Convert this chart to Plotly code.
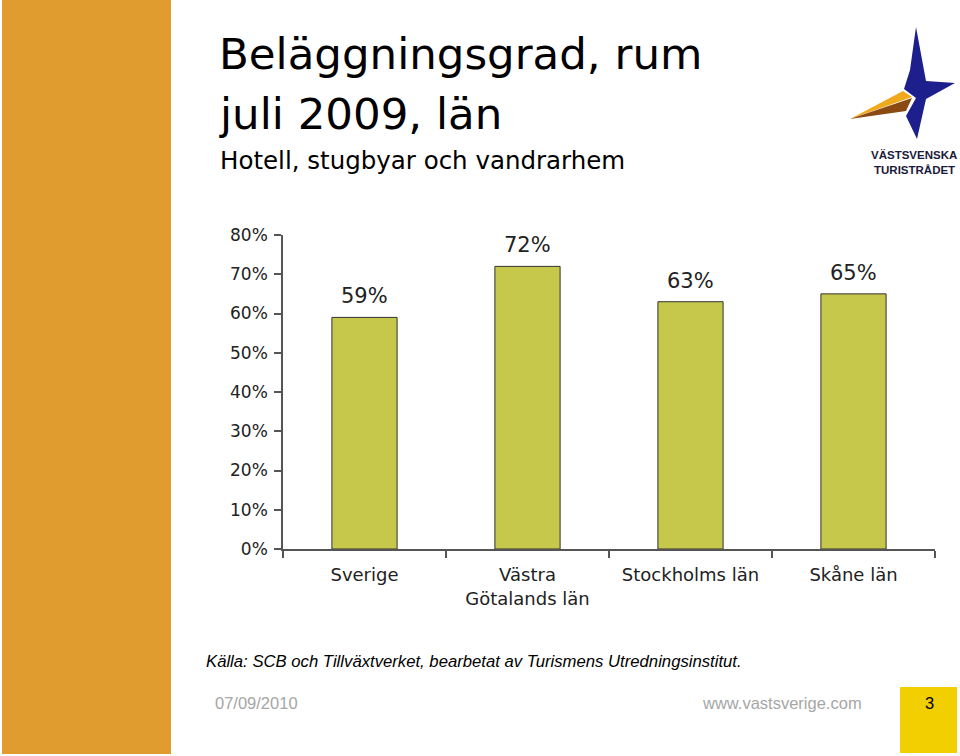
import plotly.graph_objects as go

# ---- data ----
categories = ["Sverige", "Västra<br>Götalands län", "Stockholms län", "Skåne län"]
occupancy = [59, 72, 63, 65]          # percent
y_ticks = [0, 10, 20, 30, 40, 50, 60, 70, 80]
y_tick_labels = [f"{v}%" for v in y_ticks]

title_1 = "Beläggningsgrad, rum"
title_2 = "juli 2009, län"
subtitle = "Hotell, stugbyar och vandrarhem"
source = "Källa: SCB och Tillväxtverket, bearbetat av Turismens Utredningsinstitut."
footer_date = "07/09/2010"
footer_url = "www.vastsverige.com"
page_no = "3"

W, H = 960, 756
def px(x):
    return x / W
def py(y):
    return 1 - y / H

BAR = "#C5C84B"
AXIS = "#555555"
TXT = "#222222"
FONT = "Liberation Sans, Arial, sans-serif"
WIDE = "DejaVu Sans, Liberation Sans, sans-serif"

fig = go.Figure()
fig.add_trace(go.Bar(
    x=categories, y=occupancy, width=0.4,
    marker=dict(color=BAR, line=dict(color="#333333", width=1)),
    hoverinfo="skip",
))

annotations = []
for c, v in zip(categories, occupancy):
    annotations.append(dict(
        x=c, y=v, xref="x", yref="y", text=f"{v}%", showarrow=False,
        yanchor="bottom", yshift=7, font=dict(family=WIDE, size=21, color=TXT)))

def txt(x, y, text, size, color="#000000", family=FONT, xanchor="left", yanchor="middle"):
    annotations.append(dict(x=px(x), y=py(y), xref="paper", yref="paper", text=text,
                            showarrow=False, xanchor=xanchor, yanchor=yanchor,
                            font=dict(family=family, size=size, color=color)))

txt(217, 54, title_1, 43.5, family=WIDE)
txt(217, 114, title_2, 43.5, family=WIDE)
txt(218, 160, subtitle, 24.5, family=WIDE)
txt(204, 661, "<i>" + source + "</i>", 16.7)
txt(213, 703, footer_date, 16.5, color="#A6A6A6")
txt(864, 703, footer_url, 16.5, color="#A6A6A6", xanchor="right")
txt(929, 703, page_no, 16.5, color="#000000", xanchor="center")
txt(914, 155, "<b>VÄSTSVENSKA</b>", 11.5, color="#1a1a3a", xanchor="center")
txt(914, 170, "<b>TURISTRÅDET</b>", 11.5, color="#1a1a3a", xanchor="center")

def poly(points, color):
    d = "M " + " L ".join(f"{px(x):.5f},{py(y):.5f}" for x, y in points) + " Z"
    return dict(type="path", xref="paper", yref="paper", path=d,
                fillcolor=color, line=dict(width=0), layer="above")

shapes = [
    # orange sidebar
    dict(type="rect", xref="paper", yref="paper", x0=px(2), x1=px(171), y0=py(754), y1=py(0),
         fillcolor="#E09C2E", line=dict(width=0), layer="below"),
    # yellow page box
    dict(type="rect", xref="paper", yref="paper", x0=px(900), x1=px(957), y0=py(753), y1=py(687),
         fillcolor="#F2CF00", line=dict(width=0), layer="below"),
    # logo star (blue)
    poly([(916, 27), (926, 81), (955, 83), (926, 99), (917, 139), (906, 116),
          (916, 98), (904, 89), (910, 70)], "#1C1F8C"),
    # logo wedge (orange top, brown bottom)
    poly([(850, 119), (903, 91), (912, 97)], "#F0A81C"),
    poly([(850, 119), (912, 98), (906, 111)], "#8A4A12"),
]

fig.update_layout(
    width=W, height=H, autosize=False,
    margin=dict(l=0, r=0, t=0, b=0, pad=0, autoexpand=False),
    paper_bgcolor="white", plot_bgcolor="white", showlegend=False,
    bargap=0.6,
    xaxis=dict(domain=[px(283), px(935)], type="category", tickson="boundaries",
               automargin=False,
               showline=True, linecolor=AXIS, linewidth=1.5, ticks="outside",
               ticklen=7, tickcolor=AXIS, tickwidth=1.5, showgrid=False,
               tickfont=dict(family=WIDE, size=18, color=TXT), ticklabelstandoff=9),
    yaxis=dict(domain=[py(549), py(235)], range=[0, 80], tickvals=y_ticks,
               automargin=False,
               ticktext=y_tick_labels, showline=True, linecolor=AXIS, linewidth=1.5,
               ticks="outside", ticklen=7, tickcolor=AXIS, tickwidth=1.5,
               showgrid=False, zeroline=False,
               tickfont=dict(family=WIDE, size=17, color=TXT), ticklabelstandoff=3),
    annotations=annotations, shapes=shapes,
)

post = ("document.body.style.margin='0';document.body.style.padding='0';"
        "var gd=document.getElementById('{plot_id}');"
        "gd.style.position='absolute';gd.style.left='0px';gd.style.top='0px';")
fig.write_html("out.html", post_script=post, config={"displayModeBar": False})
